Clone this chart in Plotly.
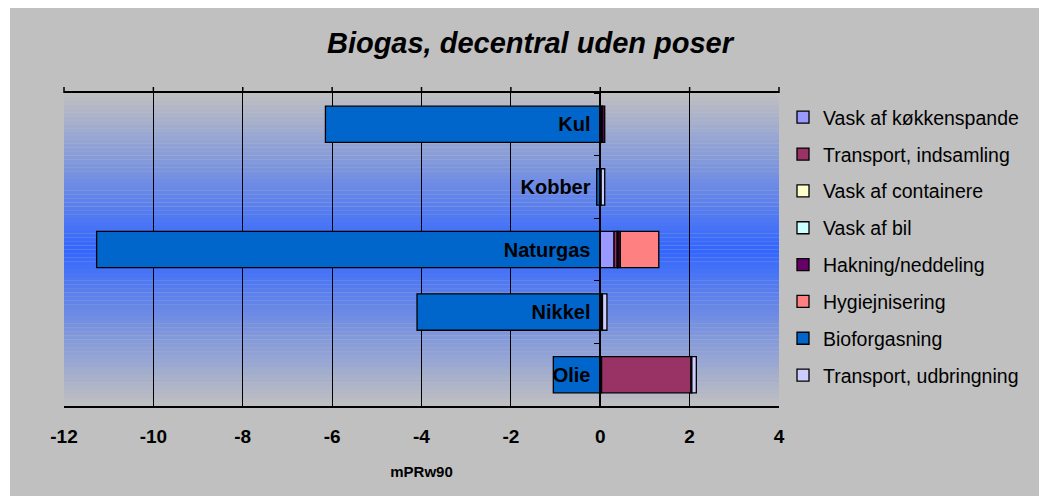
import plotly.graph_objects as go

# categories (top to bottom)
kategorier = ["Kul", "Kobber", "Naturgas", "Nikkel", "Olie"]

# series values per category, order: Kul, Kobber, Naturgas, Nikkel, Olie
vask_koekkenspande = [0.02, 0.02, 0.31, None, 0.03]
transport_indsamling = [0.03, None, 0.07, 0.02, 2.0]
vask_containere = [None, None, 0.01, None, None]
vask_bil = [None, None, 0.01, None, None]
hakning = [0.05, None, 0.05, 0.03, 0.02]
hygiejnisering = [None, None, 0.86, None, None]
bioforgasning = [-6.15, -0.08, -11.27, -4.1, -1.05]
transport_udbringning = [None, 0.08, None, 0.1, 0.1]

serier = [
    ("Vask af køkkenspande", vask_koekkenspande, "#9999FF"),
    ("Transport, indsamling", transport_indsamling, "#993366"),
    ("Vask af containere", vask_containere, "#FFFFCC"),
    ("Vask af bil", vask_bil, "#CCFFFF"),
    ("Hakning/neddeling", hakning, "#660066"),
    ("Hygiejnisering", hygiejnisering, "#FF8080"),
    ("Bioforgasning", bioforgasning, "#0066CC"),
    ("Transport, udbringning", transport_udbringning, "#CCCCFF"),
]

x_ticks = [-12, -10, -8, -6, -4, -2, 0, 2, 4]
x_range = [-12, 4]

FONT = "Liberation Sans, Arial, sans-serif"

fig = go.Figure()

for navn, vals, farve in serier:
    fig.add_trace(go.Bar(
        y=kategorier,
        x=vals,
        name=navn,
        orientation='h',
        legendgroup=navn,
        marker=dict(color=farve, line=dict(color='black', width=1.3)),
    ))

# page has an 8px body margin, so work in figure pixels
W, H = 1039, 488
ml, mr, mt, mb = 56, W - 771, 85, H - 398
pw, ph = W - ml - mr, H - mt - mb


def px_x(p):
    return (p - ml) / pw


def px_y(p):
    return (H - mb - p) / ph


# grey chart area behind everything
shapes = [dict(type='rect', xref='paper', yref='paper', layer='below',
               x0=px_x(2), x1=px_x(1034), y0=px_y(490), y1=px_y(-1),
               fillcolor='#C0C0C0', line=dict(width=0))]

# vertical gradient in plot area: grey at edges, blue in the middle
n = 80
grey = (192, 192, 192)
blue = (51, 102, 255)
for i in range(n):
    t = (i + 0.5) / n
    f = 1 - abs(t - 0.5) * 2
    c = tuple(round(g + (b - g) * f) for g, b in zip(grey, blue))
    shapes.append(dict(type='rect', xref='x domain', yref='y domain', layer='below',
                       x0=0, x1=1, y0=i / n, y1=(i + 1.02) / n,
                       fillcolor='rgb(%d,%d,%d)' % c, line=dict(width=0)))

# small tick marks above the top edge of the plot (paper refs so they are not clipped)
for v in x_ticks:
    fx = (v - x_range[0]) / (x_range[1] - x_range[0])
    shapes.append(dict(type='line', xref='paper', yref='paper', x0=fx, x1=fx,
                       y0=1, y1=1 + 6 / ph, line=dict(color='black', width=1.5)))

fig.update_layout(
    barmode='relative',
    bargap=0.42,
    width=W, height=H,
    margin=dict(l=ml, r=mr, t=mt, b=mb),
    paper_bgcolor='white',
    plot_bgcolor='rgba(0,0,0,0)',
    shapes=shapes,
    font=dict(family=FONT, color='black'),
    title=dict(text="Biogas, decentral uden poser", x=522 / W, xref='container', xanchor='center',
               y=1 - 35 / H, yref='container', yanchor='middle',
               font=dict(size=29, weight='bold', style='italic', family=FONT)),
    legend=dict(x=px_x(775), y=px_y(90), xanchor='left', yanchor='top',
                bgcolor='rgba(0,0,0,0)', traceorder='grouped', tracegroupgap=8.5,
                font=dict(size=19.5, family=FONT)),
    xaxis=dict(range=x_range, tickvals=x_ticks, ticktext=[str(v) for v in x_ticks],
               showgrid=True, gridcolor='black', gridwidth=1,
               zeroline=False, showline=True, linecolor='black', linewidth=1.5, mirror=True,
               ticks='', ticklabelstandoff=12,
               tickfont=dict(size=19, weight='bold', family=FONT),
               title=dict(text="mPRw90", standoff=21, font=dict(size=15, weight='bold', family=FONT))),
    yaxis=dict(categoryorder='array', categoryarray=kategorier, autorange='reversed',
               anchor='free', position=0.75, showline=True, linecolor='black', linewidth=1.5,
               ticks='outside', ticklen=6, tickcolor='black', tickson='boundaries',
               ticklabelstandoff=5,
               showgrid=False, layer='above traces',
               tickfont=dict(size=20, weight='bold', family=FONT)),
)

fig.write_html("out.html")
